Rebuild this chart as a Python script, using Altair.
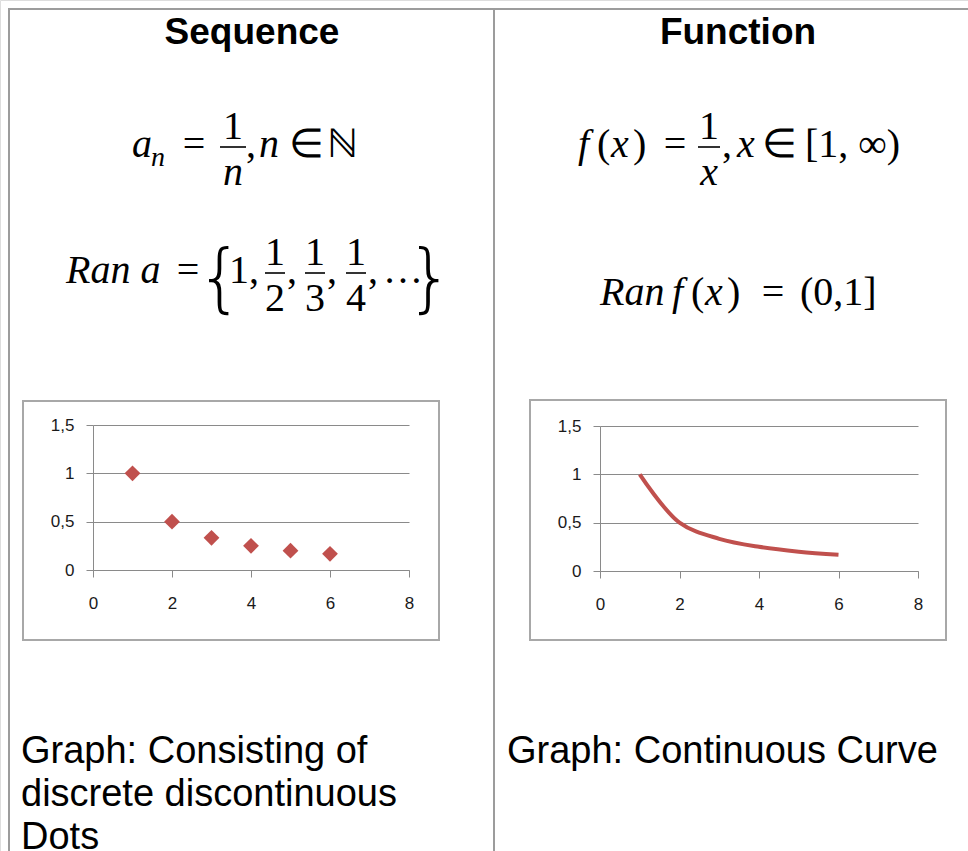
import altair as alt
import pandas as pd

# Sequence a_n = 1/n, plotted for n = 1..6
seq_n = [1, 2, 3, 4, 5, 6]
seq_a = [1.0, 0.5, 0.333, 0.25, 0.2, 0.167]

# Function f(x) = 1/x, curve drawn through these points
fun_x = [1, 2, 3, 4, 5, 6]
fun_y = [1.0, 0.5, 0.333, 0.25, 0.2, 0.167]

# axis tick values of both small plots
x_ticks = [0, 2, 4, 6, 8]
y_ticks = [0, 0.5, 1, 1.5]

headers = ["Sequence", "Function"]
left_caption = ["Graph: Consisting of", "discrete discontinuous", "Dots"]
right_caption = ["Graph: Continuous Curve"]

W, H = 968, 851
RED = "#C0504D"
GRID = "#8a8a8a"
TABLE = "#9c9c9c"
MATH = "Liberation Serif"
SANS = "Liberation Sans"
MS = 40  # math font size


def one(**kw):
    return alt.Data(values=[kw if kw else {"k": 0}])


def txt(s, x, y, size=MS, font=MATH, style="normal", weight="normal",
        align="left", color="black"):
    return alt.Chart(one(t=s)).mark_text(
        font=font, fontSize=size, fontStyle=style, fontWeight=weight,
        align=align, baseline="alphabetic", color=color,
    ).encode(text="t:N", x=alt.value(x), y=alt.value(y))


def hrule(x1, x2, y, color="black", width=1.6):
    return alt.Chart(one()).mark_rule(color=color, strokeWidth=width).encode(
        x=alt.value(x1), x2=alt.value(x2), y=alt.value(y))


def vrule(x, y1, y2, color=TABLE, width=2):
    return alt.Chart(one()).mark_rule(color=color, strokeWidth=width).encode(
        x=alt.value(x), y=alt.value(y1), y2=alt.value(y2))


def frame(x1, x2, y1, y2):
    return alt.Chart(one()).mark_rect(
        filled=False, stroke="#a8a8a8", strokeWidth=2).encode(
        x=alt.value(x1), x2=alt.value(x2), y=alt.value(y1), y2=alt.value(y2))


def frac(num, den, cx, bar_y, half, num_it=False, den_it=False):
    return [
        txt(num, cx, bar_y - 8, style="italic" if num_it else "normal", align="center"),
        hrule(cx - half, cx + half, bar_y),
        txt(den, cx, bar_y + 38, style="italic" if den_it else "normal", align="center"),
    ]


def fx(x0, y):
    # f(x) set piece by piece: italic letters, upright parentheses
    return [
        txt("f", x0, y, style="italic"),
        txt("(", x0 + 19, y),
        txt("x", x0 + 33, y, style="italic"),
        txt(")", x0 + 55, y),
    ]


BRACE = "DejaVu Sans"

layers = []

# table grid
layers += [
    hrule(8, W, 9, color=TABLE, width=2),
    vrule(9, 8, H),
    vrule(494, 8, H),
]

# column headers
layers += [
    txt(headers[0], 252, 44, size=37, font=SANS, weight="bold", align="center"),
    txt(headers[1], 738, 44, size=37, font=SANS, weight="bold", align="center"),
]

# a_n = 1/n, n ∈ ℕ
layers += [
    txt("a", 132, 157, style="italic"),
    txt("n", 151, 166, size=28, style="italic"),
    txt("=", 194, 157, align="center"),
    *frac("1", "n", 233, 147, 13, den_it=True),
    txt(",", 246, 157),
    txt("n", 259, 157, style="italic"),
    txt("∈", 306, 157, align="center"),
    txt("ℕ", 342, 157, align="center"),
]

# Ran a = {1, 1/2, 1/3, 1/4, ...}
layers += [
    txt("Ran a", 66, 283, style="italic"),
    txt("=", 188, 283, align="center"),
    txt("{", 220, 303, size=74, font=BRACE, weight=200, align="center"),
    txt("1,", 229, 283),
    *frac("1", "2", 275, 273, 10),
    txt(",", 287, 283),
    *frac("1", "3", 315, 273, 10),
    txt(",", 327, 283),
    *frac("1", "4", 356, 273, 10),
    txt(",", 368, 283),
    txt("…", 403, 283, align="center"),
    txt("}", 430, 303, size=74, font=BRACE, weight=200, align="center"),
]

# f(x) = 1/x, x ∈ [1, ∞)
layers += [
    *fx(578, 157),
    txt("=", 675, 157, align="center"),
    *frac("1", "x", 709, 147, 11, den_it=True),
    txt(",", 722, 157),
    txt("x", 737, 157, style="italic"),
    txt("∈", 779, 157, align="center"),
    txt("[1, ∞)", 805, 157),
]

# Ran f(x) = (0,1]
layers += [
    txt("Ran", 600, 305, style="italic"),
    *fx(672, 305),
    txt("=", 773, 305, align="center"),
    txt("(0,1]", 800, 305),
]

# captions
for i, line in enumerate(left_caption):
    layers.append(txt(line, 21, 763 + 43 * i, size=38, font=SANS))
for i, line in enumerate(right_caption):
    layers.append(txt(line, 507, 763 + 43 * i, size=38, font=SANS))

# chart frames
layers += [frame(23, 439, 401, 640), frame(530, 946, 400, 640)]

# decimal comma on the value axis: 0,5 and 1,5
label_expr = "replace(toString(datum.value), '.', ',')"


def x_axis(axis_y):
    return alt.Axis(
        orient="bottom", offset=-(H - axis_y), values=x_ticks, grid=False,
        title=None, tickSize=7, tickColor=GRID, domainColor=GRID,
        labelFont=SANS, labelFontSize=17, labelColor="#1a1a1a",
        labelPadding=18, labelFlush=False, labelOverlap=False, zindex=1,
    )


def y_axis(axis_x):
    return alt.Axis(
        orient="left", offset=-axis_x, values=y_ticks, grid=True,
        gridColor=GRID, gridWidth=1, title=None, tickSize=7,
        tickColor=GRID, domainColor=GRID, labelFont=SANS, labelFontSize=17,
        labelColor="#1a1a1a", labelPadding=12, labelFlush=False,
        labelOverlap=False, labelExpr=label_expr, zindex=0,
    )


seq_df = pd.DataFrame({"n": seq_n, "a": seq_a})
seq_chart = alt.Chart(seq_df).mark_point(
    shape="diamond", filled=True, size=250, color=RED, opacity=1,
).encode(
    x=alt.X("n:Q", scale=alt.Scale(domain=[0, 8], range=[93, 409], nice=False, zero=False),
            axis=x_axis(570)),
    y=alt.Y("a:Q", scale=alt.Scale(domain=[0, 1.5], range=[570, 425], nice=False, zero=False),
            axis=y_axis(93)),
)

fun_df = pd.DataFrame({"x": fun_x, "y": fun_y})
fun_chart = alt.Chart(fun_df).mark_line(
    color=RED, strokeWidth=4, interpolate="catmull-rom",
).encode(
    x=alt.X("x:Q", scale=alt.Scale(domain=[0, 8], range=[600, 918], nice=False, zero=False),
            axis=x_axis(571)),
    y=alt.Y("y:Q", scale=alt.Scale(domain=[0, 1.5], range=[571, 426], nice=False, zero=False),
            axis=y_axis(600)),
)

layers += [seq_chart, fun_chart]

chart = alt.layer(*layers).resolve_scale(
    x="independent", y="independent"
).resolve_axis(
    x="independent", y="independent"
).properties(
    width=W, height=H, padding=0,
    autosize=alt.AutoSizeParams(type="none"),
).configure_view(stroke=None).configure(background="white")

chart.save("out.html", embed_options={"renderer": "svg", "actions": False})
